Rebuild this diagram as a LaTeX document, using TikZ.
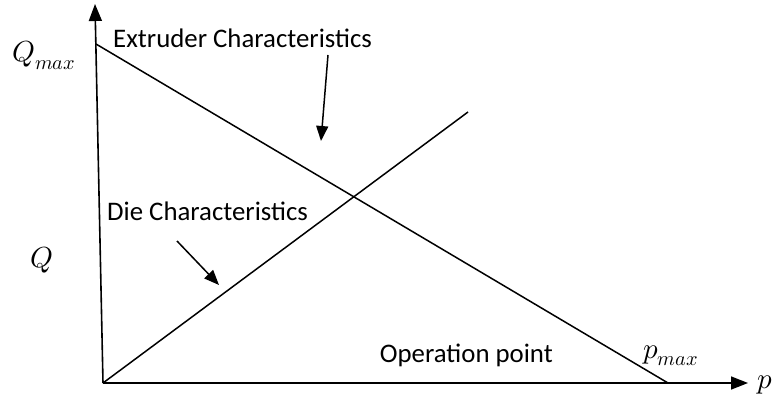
\documentclass[tikz,border=0pt]{standalone}
\usepackage{fontspec}
\usepackage{unicode-math}
\setmainfont{Carlito}
\usetikzlibrary{arrows.meta}
\tikzset{axis/.style={line width=1.6pt,-{Triangle[length=17pt,width=13pt]}},
 charline/.style={line width=1.5pt},
 pointer/.style={line width=1.5pt,-{Triangle[length=15pt,width=12pt]}},
 lbl/.style={font=\fontsize{26.8}{30}\selectfont,inner sep=0pt},
 sym/.style={font=\fontsize{29}{32}\selectfont,inner sep=0pt},
 }

\begin{document}
\begin{tikzpicture}[x=1pt,y=-1pt]
        \useasboundingbox (0,0) rectangle (773,396);
        % axes
        \coordinate (origin) at (103,383);
        \coordinate (qend) at (95,4);
        \coordinate (pend) at (748,383);
        \draw[axis] (origin) -- (qend);
        \draw[axis] (origin) -- (pend);
        % characteristics
        \coordinate (qmaxpt) at (96,44);
        \coordinate (pmaxpt) at (668,383);
        \coordinate (dieend) at (468,112);
        \draw[charline] (qmaxpt) -- (pmaxpt);
        \draw[charline] (origin) -- (dieend);
        % labels
        \node[sym, anchor=base west] (qmax) at (12,62) {$Q_{max}$};
        \node[sym, anchor=base west] (qlbl) at (30,267) {$Q$};
        \node[sym, anchor=base west] (pmax) at (643,358) {$p_{max}$};
        \node[sym, anchor=base west] (plbl) at (757,388) {$p$};
        \node[lbl, anchor=base west] (extr) at (113,48) {Extruder Characteristics};
        \node[lbl, anchor=base west] (die) at (107,220) {Die Characteristics};
        \node[lbl, anchor=base east] (oper) at (553,362) {Operation point};
        % pointers
        \coordinate (extrfrom) at (328,55);
        \coordinate (extrto) at (321,141);
        \coordinate (diefrom) at (177,241);
        \coordinate (dieto) at (219,285);
        \draw[pointer] (extrfrom) -- (extrto);
        \draw[pointer] (diefrom) -- (dieto);
    \end{tikzpicture}
\end{document}
